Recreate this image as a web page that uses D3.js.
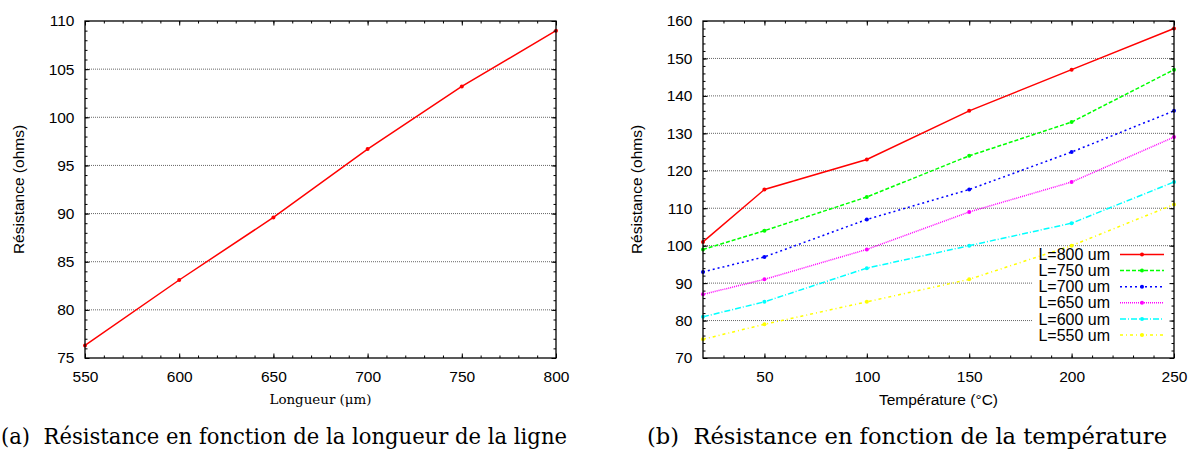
<!DOCTYPE html>
<html>
<head>
<meta charset="utf-8">
<script src="https://cdn.jsdelivr.net/npm/d3@7"></script>
<style>
  body { margin: 0; background: #fff; }
  svg { display: block; }
</style>
</head>
<body>
<div id="chart"></div>
<script>
// (a) resistance vs line length
const lengthsUm = [550, 600, 650, 700, 750, 800];
const resistanceByLength = [76.3, 83.1, 89.6, 96.7, 103.2, 109.0];
const lengthTicks = [550, 600, 650, 700, 750, 800];
const resTicksA = [75, 80, 85, 90, 95, 100, 105, 110];

// (b) resistance vs temperature, one series per line length
const temperatures = [20, 50, 100, 150, 200, 250];
const seriesNames = ['L=800 um', 'L=750 um', 'L=700 um', 'L=650 um', 'L=600 um', 'L=550 um'];
const r800 = [101, 115, 123, 136, 147, 158];
const r750 = [99, 104, 113, 124, 133, 147];
const r700 = [93, 97, 107, 115, 125, 136];
const r650 = [87, 91, 99, 109, 117, 129];
const r600 = [81, 85, 94, 100, 106, 117];
const r550 = [75, 79, 85, 91, 100, 111];
const seriesValues = [r800, r750, r700, r650, r600, r550];
const tempTicks = [50, 100, 150, 200, 250];
const resTicksB = [70, 80, 90, 100, 110, 120, 130, 140, 150, 160];

const seriesColors = ['#ff0000', '#00ff00', '#0000ff', '#ff00ff', '#00ffff', '#ffff00'];
const seriesDash = [null, '4,2', '2,3', '1,1', '6,2,1,2', '3,3,1,3'];

const W = 1191, H = 450;
const sans = '"Liberation Sans", Arial, sans-serif';
const serif = '"DejaVu Serif", serif';

const svg = d3.select('#chart').append('svg')
  .attr('width', W).attr('height', H)
  .attr('viewBox', `0 0 ${W} ${H}`);

function drawAxes(g, box, x, y, xMajor, xMinor, yMajor, yMinor) {
  const styleTicks = sel => {
    sel.select('.domain').remove();
    sel.selectAll('line').attr('stroke', '#000').attr('stroke-width', 1);
    sel.selectAll('text').attr('fill', '#000')
      .style('font-family', sans).style('font-size', '15.5px');
  };
  // major ticks with labels
  g.append('g').attr('transform', `translate(0,${box.bottom})`)
    .call(d3.axisBottom(x).tickValues(xMajor).tickSizeInner(-4.5).tickSizeOuter(0).tickPadding(13).tickFormat(d3.format('d')))
    .call(styleTicks);
  g.append('g').attr('transform', `translate(${box.left},0)`)
    .call(d3.axisLeft(y).tickValues(yMajor).tickSizeInner(-4.5).tickSizeOuter(0).tickPadding(10.5).tickFormat(d3.format('d')))
    .call(styleTicks);
  // mirrored major ticks
  g.append('g').attr('transform', `translate(0,${box.top})`)
    .call(d3.axisTop(x).tickValues(xMajor).tickSizeInner(-4.5).tickSizeOuter(0).tickFormat(''))
    .call(styleTicks);
  g.append('g').attr('transform', `translate(${box.right},0)`)
    .call(d3.axisRight(y).tickValues(yMajor).tickSizeInner(-4.5).tickSizeOuter(0).tickFormat(''))
    .call(styleTicks);
  // minor ticks on all four sides
  g.append('g').attr('transform', `translate(0,${box.bottom})`)
    .call(d3.axisBottom(x).tickValues(xMinor).tickSizeInner(-2.5).tickSizeOuter(0).tickFormat(''))
    .call(styleTicks);
  g.append('g').attr('transform', `translate(0,${box.top})`)
    .call(d3.axisTop(x).tickValues(xMinor).tickSizeInner(-2.5).tickSizeOuter(0).tickFormat(''))
    .call(styleTicks);
  g.append('g').attr('transform', `translate(${box.left},0)`)
    .call(d3.axisLeft(y).tickValues(yMinor).tickSizeInner(-2.5).tickSizeOuter(0).tickFormat(''))
    .call(styleTicks);
  g.append('g').attr('transform', `translate(${box.right},0)`)
    .call(d3.axisRight(y).tickValues(yMinor).tickSizeInner(-2.5).tickSizeOuter(0).tickFormat(''))
    .call(styleTicks);

  g.append('rect')
    .attr('x', box.left).attr('y', box.top)
    .attr('width', box.right - box.left).attr('height', box.bottom - box.top)
    .attr('fill', 'none').attr('stroke', '#000').attr('stroke-width', 1.3);
}

function drawGrid(g, box, y, values) {
  g.append('g').selectAll('line')
    .data(values.filter(v => y(v) > box.top + 1 && y(v) < box.bottom - 1))
    .join('line')
    .attr('x1', box.left).attr('x2', box.right)
    .attr('y1', d => y(d)).attr('y2', d => y(d))
    .attr('stroke', '#666').attr('stroke-width', 1)
    .attr('stroke-dasharray', '1,1');
}

function yLabel(g, cx, cy, text) {
  g.append('text')
    .attr('transform', `translate(${cx},${cy}) rotate(-90)`)
    .attr('text-anchor', 'middle')
    .attr('dy', '0.35em')
    .style('font-family', sans).style('font-size', '15.5px')
    .text(text);
}

// ---------- panel (a) ----------
const boxA = { left: 85, right: 556, top: 21, bottom: 358 };
const xA = d3.scaleLinear().domain([550, 800]).range([boxA.left, boxA.right]);
const yA = d3.scaleLinear().domain([75, 110]).range([boxA.bottom, boxA.top]);
const gA = svg.append('g');

drawGrid(gA, boxA, yA, resTicksA);

const ptsA = lengthsUm.map((l, i) => [l, resistanceByLength[i]]);
gA.append('path')
  .datum(ptsA)
  .attr('d', d3.line().x(d => xA(d[0])).y(d => yA(d[1])))
  .attr('fill', 'none').attr('stroke', '#ff0000').attr('stroke-width', 1.5);
gA.append('g').selectAll('circle')
  .data(ptsA)
  .join('circle')
  .attr('cx', d => xA(d[0])).attr('cy', d => yA(d[1]))
  .attr('r', 2).attr('fill', '#ff0000');

drawAxes(gA, boxA, xA, yA, lengthTicks, d3.range(550, 801, 10), resTicksA, d3.range(75, 110.5, 1));
yLabel(gA, 19, (boxA.top + boxA.bottom) / 2, 'Résistance (ohms)');

gA.append('text')
  .attr('x', (boxA.left + boxA.right) / 2).attr('y', 404)
  .attr('text-anchor', 'middle')
  .attr('textLength', 102).attr('lengthAdjust', 'spacingAndGlyphs')
  .style('font-family', serif).style('font-size', '12.5px')
  .text('Longueur (μm)');

gA.append('text')
  .attr('x', 1).attr('y', 444)
  .attr('textLength', 566).attr('lengthAdjust', 'spacingAndGlyphs')
  .style('font-family', serif).style('font-size', '22px')
  .text('(a)\u00a0 Résistance en fonction de la longueur de la ligne');

// ---------- panel (b) ----------
const boxB = { left: 703, right: 1174, top: 21, bottom: 358 };
const xB = d3.scaleLinear().domain([20, 250]).range([boxB.left, boxB.right]);
const yB = d3.scaleLinear().domain([70, 160]).range([boxB.bottom, boxB.top]);
const gB = svg.append('g');

drawGrid(gB, boxB, yB, resTicksB);

// opaque key background sits over the grid
const keyTop = 247, keyRow = 16.1;
gB.append('rect')
  .attr('x', 1033).attr('y', keyTop)
  .attr('width', boxB.right - 1033).attr('height', keyRow * seriesNames.length)
  .attr('fill', '#fff');

const lineB = d3.line().x(d => xB(d[0])).y(d => yB(d[1]));
seriesValues.forEach((vals, i) => {
  const pts = temperatures.map((t, j) => [t, vals[j]]);
  gB.append('path')
    .datum(pts)
    .attr('d', lineB)
    .attr('fill', 'none')
    .attr('stroke', seriesColors[i]).attr('stroke-width', 1.5)
    .attr('stroke-dasharray', seriesDash[i]);
  gB.append('g').selectAll('circle')
    .data(pts)
    .join('circle')
    .attr('cx', d => xB(d[0])).attr('cy', d => yB(d[1]))
    .attr('r', 2).attr('fill', seriesColors[i]);
});

drawAxes(gB, boxB, xB, yB, tempTicks, d3.range(30, 250, 10), resTicksB, d3.range(70, 160.5, 2));
yLabel(gB, 637, (boxB.top + boxB.bottom) / 2, 'Résistance (ohms)');

gB.append('text')
  .attr('x', (boxB.left + boxB.right) / 2).attr('y', 405)
  .attr('text-anchor', 'middle')
  .style('font-family', sans).style('font-size', '15.5px')
  .text('Température (°C)');

// key
const key = gB.append('g').selectAll('g')
  .data(seriesNames)
  .join('g')
  .attr('transform', (d, i) => `translate(0,${keyTop + 7.5 + i * keyRow})`);
key.append('text')
  .attr('x', 1110).attr('dy', '0.35em')
  .attr('text-anchor', 'end')
  .style('font-family', sans).style('font-size', '16px')
  .text(d => d);
key.append('line')
  .attr('x1', 1120).attr('x2', 1164)
  .attr('stroke', (d, i) => seriesColors[i]).attr('stroke-width', 1.5)
  .attr('stroke-dasharray', (d, i) => seriesDash[i]);
key.append('circle')
  .attr('cx', 1142).attr('r', 2)
  .attr('fill', (d, i) => seriesColors[i]);

gB.append('text')
  .attr('x', 647).attr('y', 444)
  .attr('textLength', 520).attr('lengthAdjust', 'spacingAndGlyphs')
  .style('font-family', serif).style('font-size', '22px')
  .text('(b)\u00a0 Résistance en fonction de la température');
</script>
</body>
</html>
